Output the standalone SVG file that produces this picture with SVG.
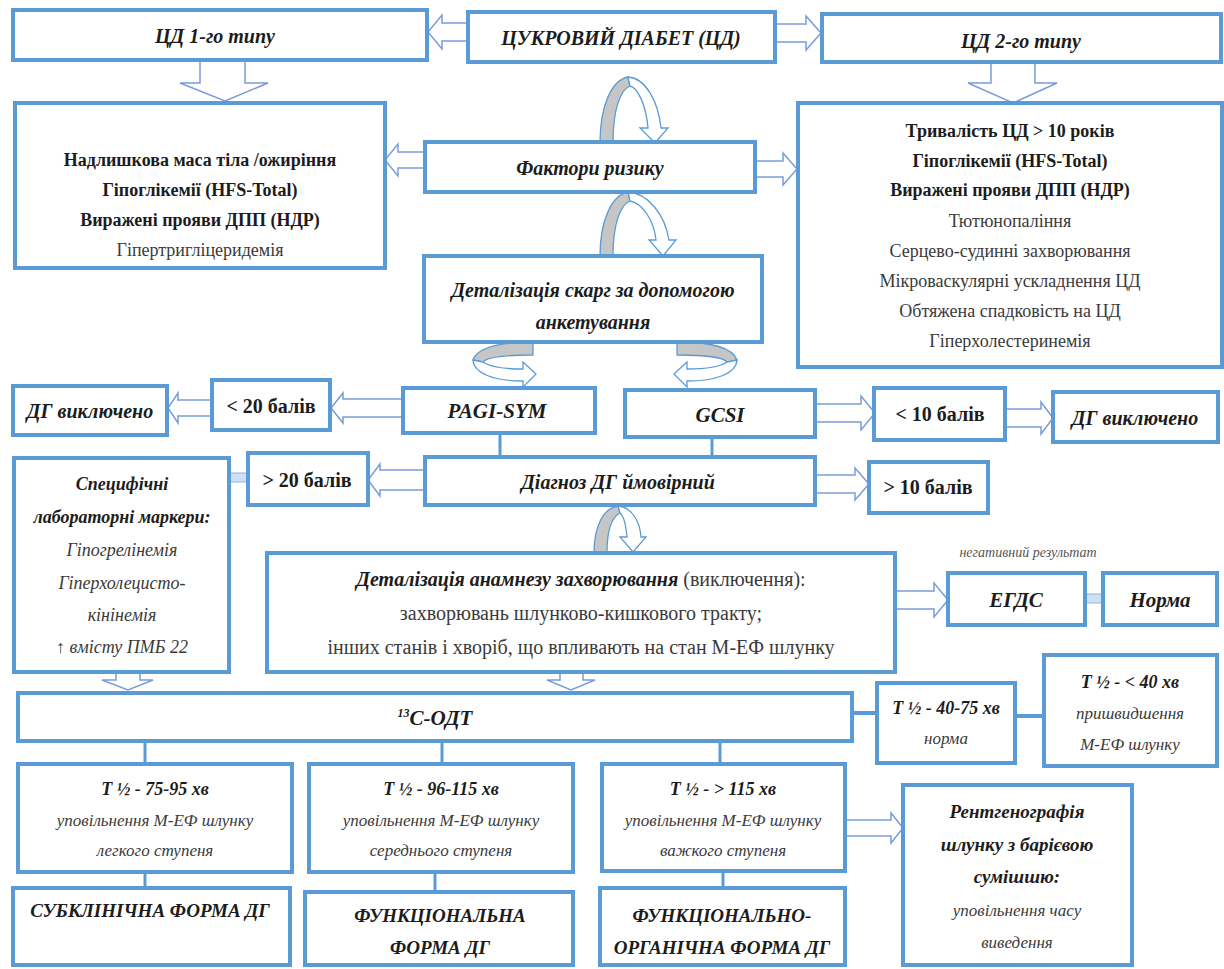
<svg xmlns="http://www.w3.org/2000/svg" width="1224" height="969" viewBox="0 0 1224 969">
<defs>
<path id="dummy" d="M0,0"/>
</defs>
<g id="connectors">
<g fill="#fff" stroke="#7A9CDA" stroke-width="1.5">
<path d="M468,23 L442,23 L442,15 L428,32 L442,49 L442,41 L468,41 Z"/>
<path d="M775,24 L806,24 L806,16 L821,33 L806,50 L806,42 L775,42 Z"/>
<path d="M200,62 L200,83 L180,83 L225,101 L268,83 L245,83 L245,62"/>
<path d="M991,62 L991,83 L968,83 L1013,103 L1057,83 L1035,83 L1035,62"/>
<path d="M425,152 L398,152 L398,144 L385,160 L398,176 L398,168 L425,168 Z"/>
<path d="M755,161 L783,161 L783,153 L797,169 L783,185 L783,177 L755,177 Z"/>
<path d="M403,399 L343,399 L343,393 L331,408 L343,423 L343,417 L403,417 Z"/>
<path d="M212,400 L178,400 L178,393 L168,408 L178,423 L178,416 L212,416 Z"/>
<path d="M425,470 L380,470 L380,464 L368,480 L380,496 L380,490 L425,490 Z"/>
<path d="M815,404 L861,404 L861,396 L875,413 L861,430 L861,422 L815,422 Z"/>
<path d="M1005,409 L1041,409 L1041,402 L1053,418 L1041,434 L1041,427 L1005,427 Z"/>
<path d="M815,475 L855,475 L855,468 L869,484 L855,500 L855,493 L815,493 Z"/>
<path d="M895,591 L934,591 L934,583 L948,600 L934,617 L934,609 L895,609 Z"/>
<path d="M116,672 L116,680 L102,680 L128,690 L153,680 L140,680 L140,672"/>
<path d="M560,673 L560,680 L547,680 L571,690 L595,680 L583,680 L583,673"/>
<path d="M845,820 L891,820 L891,813 L903,828 L891,843 L891,836 L845,836 Z"/>
</g>
<g fill="#c6c6c6" stroke="#5B9BD5" stroke-width="1.3">
<path d="M600,143 C600,105 612,80 628,77 L630,86 C620,90 613,110 613,143 Z"/>
<path d="M600,256 C600,220 612,195 628,192 L630,201 C620,205 613,225 613,256 Z"/>
<path d="M533,342 C505,342 478,346 473,360 L483,362 C488,356 510,355 533,355 Z"/>
<path d="M677,342 C705,342 732,346 737,360 L727,362 C722,356 700,355 677,355 Z"/>
<path d="M594,553 C594,525 604,508 618,506 L620,513 C612,517 607,530 607,553 Z"/>
</g>
<g fill="#fff" stroke="#5B9BD5" stroke-width="1.3">
<path d="M628,77 C645,78 658,100 661,128 L668,128 L655,143 L640,128 L648,128 C646,105 638,88 630,86 Z"/>
<path d="M628,192 C648,193 665,215 669,240 L676,240 L663,256 L649,240 L656,240 C654,220 642,203 630,201 Z"/>
<path d="M473,360 C474,374 495,381 523,381 L523,387 L536,374 L523,362 L523,369 C505,369 490,367 483,362 Z"/>
<path d="M737,360 C736,374 715,381 687,381 L687,387 L674,374 L687,362 L687,369 C705,369 720,367 727,362 Z"/>
<path d="M618,506 C632,507 640,522 641,537 L646,537 L633,552 L620,537 L627,537 C626,526 624,516 620,513 Z"/>
</g>
<g fill="#cfe0f3" stroke="#8DB3E2" stroke-width="1">
<rect x="229" y="473" width="19" height="9"/>
<rect x="1085" y="594" width="18" height="9"/>
</g>
<g stroke="#5B9BD5" stroke-width="3" fill="none">
<line x1="500" y1="433" x2="500" y2="457"/>
<line x1="712" y1="437" x2="712" y2="457"/>
<line x1="852" y1="713" x2="877" y2="713" stroke-width="4"/>
<line x1="1015" y1="716" x2="1044" y2="716" stroke-width="4"/>
<line x1="145" y1="741" x2="145" y2="764"/>
<line x1="442" y1="741" x2="442" y2="764"/>
<line x1="720" y1="741" x2="720" y2="764"/>
<line x1="145" y1="872" x2="145" y2="888"/>
<line x1="435" y1="872" x2="435" y2="890"/>
<line x1="723" y1="871" x2="723" y2="888"/>
</g>
</g>
<g id="n-cd1"><rect fill="#fff" stroke="#5B9BD5" stroke-width="4" x="13" y="10" width="414" height="50"/><text style="font-family:'Liberation Serif',serif" text-anchor="middle" fill="#1c1c1c" font-size="20" font-weight="bold" font-style="italic" x="215" y="43">ЦД 1-го типу</text></g>
<g id="n-cd"><rect fill="#fff" stroke="#5B9BD5" stroke-width="4" x="468" y="12" width="307" height="50"/><text style="font-family:'Liberation Serif',serif" text-anchor="middle" fill="#1c1c1c" font-size="20" font-weight="bold" font-style="italic" x="621" y="45">ЦУКРОВИЙ ДІАБЕТ (ЦД)</text></g>
<g id="n-cd2"><rect fill="#fff" stroke="#5B9BD5" stroke-width="4" x="822" y="14" width="399" height="48"/><text style="font-family:'Liberation Serif',serif" text-anchor="middle" fill="#1c1c1c" font-size="20" font-weight="bold" font-style="italic" x="1021" y="48">ЦД 2-го типу</text></g>
<g id="n-left"><rect fill="#fff" stroke="#5B9BD5" stroke-width="4" x="15" y="103" width="370" height="165"/>
<text style="font-family:'Liberation Serif',serif" text-anchor="middle" fill="#1c1c1c" font-size="18" font-weight="bold" x="200" y="166">Надлишкова маса тіла /ожиріння</text>
<text style="font-family:'Liberation Serif',serif" text-anchor="middle" fill="#1c1c1c" font-size="18" font-weight="bold" x="200" y="196">Гіпоглікемії (HFS-Total)</text>
<text style="font-family:'Liberation Serif',serif" text-anchor="middle" fill="#1c1c1c" font-size="18" font-weight="bold" x="200" y="226">Виражені прояви ДПП (НДР)</text>
<text style="font-family:'Liberation Serif',serif" text-anchor="middle" fill="#3a3a3a" font-size="18" x="200" y="256">Гіпертригліцеридемія</text></g>
<g id="n-risk"><rect fill="#fff" stroke="#5B9BD5" stroke-width="4" x="425" y="142" width="330" height="50"/><text style="font-family:'Liberation Serif',serif" text-anchor="middle" fill="#1c1c1c" font-size="20" font-weight="bold" font-style="italic" x="590" y="175">Фактори ризику</text></g>
<g id="n-right"><rect fill="#fff" stroke="#5B9BD5" stroke-width="4" x="798" y="103" width="424" height="264"/>
<text style="font-family:'Liberation Serif',serif" text-anchor="middle" fill="#1c1c1c" font-size="18" font-weight="bold" x="1010" y="137">Тривалість ЦД &gt; 10 років</text>
<text style="font-family:'Liberation Serif',serif" text-anchor="middle" fill="#1c1c1c" font-size="18" font-weight="bold" x="1010" y="167">Гіпоглікемії (HFS-Total)</text>
<text style="font-family:'Liberation Serif',serif" text-anchor="middle" fill="#1c1c1c" font-size="18" font-weight="bold" x="1010" y="196">Виражені прояви ДПП (НДР)</text>
<text style="font-family:'Liberation Serif',serif" text-anchor="middle" fill="#3a3a3a" font-size="18" x="1010" y="227">Тютюнопаління</text>
<text style="font-family:'Liberation Serif',serif" text-anchor="middle" fill="#3a3a3a" font-size="18" x="1010" y="257">Серцево-судинні захворювання</text>
<text style="font-family:'Liberation Serif',serif" text-anchor="middle" fill="#3a3a3a" font-size="18" x="1010" y="287">Мікроваскулярні ускладнення ЦД</text>
<text style="font-family:'Liberation Serif',serif" text-anchor="middle" fill="#3a3a3a" font-size="18" x="1010" y="317">Обтяжена спадковість на ЦД</text>
<text style="font-family:'Liberation Serif',serif" text-anchor="middle" fill="#3a3a3a" font-size="18" x="1010" y="347">Гіперхолестеринемія</text></g>
<g id="n-quest"><rect fill="#fff" stroke="#5B9BD5" stroke-width="4" x="424" y="256" width="338" height="86"/>
<text style="font-family:'Liberation Serif',serif" text-anchor="middle" fill="#1c1c1c" font-size="20" font-weight="bold" font-style="italic" x="593" y="297">Деталізація скарг за допомогою</text>
<text style="font-family:'Liberation Serif',serif" text-anchor="middle" fill="#1c1c1c" font-size="20" font-weight="bold" font-style="italic" x="593" y="329">анкетування</text></g>
<g id="n-pagi"><rect fill="#fff" stroke="#5B9BD5" stroke-width="4" x="403" y="388" width="192" height="45"/><text style="font-family:'Liberation Serif',serif" text-anchor="middle" fill="#1c1c1c" font-size="21" font-weight="bold" font-style="italic" x="497" y="418">PAGI-SYM</text></g>
<g id="n-gcsi"><rect fill="#fff" stroke="#5B9BD5" stroke-width="4" x="625" y="390" width="190" height="47"/><text style="font-family:'Liberation Serif',serif" text-anchor="middle" fill="#1c1c1c" font-size="21" font-weight="bold" font-style="italic" x="720" y="422">GCSI</text></g>
<g id="n-lt20"><rect fill="#fff" stroke="#5B9BD5" stroke-width="4" x="212" y="380" width="118" height="50"/><text style="font-family:'Liberation Serif',serif" text-anchor="middle" fill="#1c1c1c" font-size="20" font-weight="bold" x="271" y="413">&lt; 20 балів</text></g>
<g id="n-excl1"><rect fill="#fff" stroke="#5B9BD5" stroke-width="4" x="13" y="386" width="154" height="49"/><text style="font-family:'Liberation Serif',serif" text-anchor="middle" fill="#1c1c1c" font-size="20" font-weight="bold" font-style="italic" x="90" y="418">ДГ виключено</text></g>
<g id="n-diag"><rect fill="#fff" stroke="#5B9BD5" stroke-width="4" x="425" y="457" width="390" height="48"/><text style="font-family:'Liberation Serif',serif" text-anchor="middle" fill="#1c1c1c" font-size="20" font-weight="bold" font-style="italic" x="618" y="489">Діагноз ДГ ймовірний</text></g>
<g id="n-gt20"><rect fill="#fff" stroke="#5B9BD5" stroke-width="4" x="248" y="453" width="120" height="52"/><text style="font-family:'Liberation Serif',serif" text-anchor="middle" fill="#1c1c1c" font-size="20" font-weight="bold" x="307" y="487">&gt; 20 балів</text></g>
<g id="n-lab"><rect fill="#fff" stroke="#5B9BD5" stroke-width="4" x="14" y="458" width="215" height="214"/>
<text style="font-family:'Liberation Serif',serif" text-anchor="middle" fill="#1c1c1c" font-size="18" font-weight="bold" font-style="italic" x="122" y="490">Специфічні</text>
<text style="font-family:'Liberation Serif',serif" text-anchor="middle" fill="#1c1c1c" font-size="18" font-weight="bold" font-style="italic" x="122" y="523">лабораторні маркери:</text>
<text style="font-family:'Liberation Serif',serif" text-anchor="middle" fill="#3a3a3a" font-size="18" font-style="italic" x="122" y="556">Гіпогрелінемія</text>
<text style="font-family:'Liberation Serif',serif" text-anchor="middle" fill="#3a3a3a" font-size="18" font-style="italic" x="122" y="589">Гіперхолецисто-</text>
<text style="font-family:'Liberation Serif',serif" text-anchor="middle" fill="#3a3a3a" font-size="18" font-style="italic" x="122" y="621">кінінемія</text>
<text style="font-family:'Liberation Serif',serif" text-anchor="middle" fill="#3a3a3a" font-size="18" font-style="italic" x="122" y="653">↑ вмісту ПМБ 22</text></g>
<g id="n-lt10"><rect fill="#fff" stroke="#5B9BD5" stroke-width="4" x="874" y="388" width="131" height="52"/><text style="font-family:'Liberation Serif',serif" text-anchor="middle" fill="#1c1c1c" font-size="20" font-weight="bold" x="940" y="421">&lt; 10 балів</text></g>
<g id="n-excl2"><rect fill="#fff" stroke="#5B9BD5" stroke-width="4" x="1053" y="392" width="165" height="50"/><text style="font-family:'Liberation Serif',serif" text-anchor="middle" fill="#1c1c1c" font-size="20" font-weight="bold" font-style="italic" x="1135" y="425">ДГ виключено</text></g>
<g id="n-gt10"><rect fill="#fff" stroke="#5B9BD5" stroke-width="4" x="869" y="462" width="119" height="51"/><text style="font-family:'Liberation Serif',serif" text-anchor="middle" fill="#1c1c1c" font-size="20" font-weight="bold" x="928" y="494">&gt; 10 балів</text></g>
<g id="n-anam"><rect fill="#fff" stroke="#5B9BD5" stroke-width="4" x="267" y="553" width="628" height="119"/>
<text style="font-family:'Liberation Serif',serif" text-anchor="middle" fill="#1c1c1c" font-size="20" x="581" y="586"><tspan font-weight="bold" font-style="italic">Деталізація анамнезу захворювання</tspan><tspan fill="#3a3a3a"> (виключення):</tspan></text>
<text style="font-family:'Liberation Serif',serif" text-anchor="middle" fill="#3a3a3a" font-size="20" x="581" y="620">захворювань шлунково-кишкового тракту;</text>
<text style="font-family:'Liberation Serif',serif" text-anchor="middle" fill="#3a3a3a" font-size="20" x="581" y="654">інших станів і хворіб, що впливають на стан М-ЕФ шлунку</text></g>
<text style="font-family:'Liberation Serif',serif" text-anchor="middle" fill="#555" font-size="14" font-style="italic" x="1028" y="557">негативний результат</text>
<g id="n-egds"><rect fill="#fff" stroke="#5B9BD5" stroke-width="4" x="948" y="573" width="137" height="52"/><text style="font-family:'Liberation Serif',serif" text-anchor="middle" fill="#1c1c1c" font-size="21" font-weight="bold" font-style="italic" x="1016" y="607">ЕГДС</text></g>
<g id="n-norm"><rect fill="#fff" stroke="#5B9BD5" stroke-width="4" x="1103" y="573" width="114" height="52"/><text style="font-family:'Liberation Serif',serif" text-anchor="middle" fill="#1c1c1c" font-size="21" font-weight="bold" font-style="italic" x="1160" y="607">Норма</text></g>
<g id="n-odt"><rect fill="#fff" stroke="#5B9BD5" stroke-width="4" x="18" y="693" width="834" height="48"/><text style="font-family:'Liberation Serif',serif" text-anchor="middle" fill="#1c1c1c" font-size="21" font-weight="bold" font-style="italic" x="435" y="725"><tspan font-size="12" dy="-8">13</tspan><tspan dy="8">С-ОДТ</tspan></text></g>
<g id="n-t40"><rect fill="#fff" stroke="#5B9BD5" stroke-width="4" x="877" y="683" width="138" height="80"/>
<text style="font-family:'Liberation Serif',serif" text-anchor="middle" fill="#1c1c1c" font-size="18" font-weight="bold" font-style="italic" x="946" y="714">T ½ - 40-75 хв</text>
<text style="font-family:'Liberation Serif',serif" text-anchor="middle" fill="#3a3a3a" font-size="17" font-style="italic" x="946" y="744">норма</text></g>
<g id="n-tlt40"><rect fill="#fff" stroke="#5B9BD5" stroke-width="4" x="1044" y="655" width="173" height="111"/>
<text style="font-family:'Liberation Serif',serif" text-anchor="middle" fill="#1c1c1c" font-size="18" font-weight="bold" font-style="italic" x="1130" y="688">T ½ - &lt; 40 хв</text>
<text style="font-family:'Liberation Serif',serif" text-anchor="middle" fill="#3a3a3a" font-size="17" font-style="italic" x="1130" y="719">пришвидшення</text>
<text style="font-family:'Liberation Serif',serif" text-anchor="middle" fill="#3a3a3a" font-size="17" font-style="italic" x="1130" y="750">М-ЕФ шлунку</text></g>
<g id="n-m1"><rect fill="#fff" stroke="#5B9BD5" stroke-width="4" x="18" y="764" width="274" height="108"/>
<text style="font-family:'Liberation Serif',serif" text-anchor="middle" fill="#1c1c1c" font-size="18" font-weight="bold" font-style="italic" x="155" y="795">T ½ - 75-95 хв</text>
<text style="font-family:'Liberation Serif',serif" text-anchor="middle" fill="#3a3a3a" font-size="17" font-style="italic" x="155" y="826">уповільнення М-ЕФ шлунку</text>
<text style="font-family:'Liberation Serif',serif" text-anchor="middle" fill="#3a3a3a" font-size="17" font-style="italic" x="155" y="856">легкого ступеня</text></g>
<g id="n-m2"><rect fill="#fff" stroke="#5B9BD5" stroke-width="4" x="309" y="764" width="264" height="108"/>
<text style="font-family:'Liberation Serif',serif" text-anchor="middle" fill="#1c1c1c" font-size="18" font-weight="bold" font-style="italic" x="441" y="795">T ½ - 96-115 хв</text>
<text style="font-family:'Liberation Serif',serif" text-anchor="middle" fill="#3a3a3a" font-size="17" font-style="italic" x="441" y="826">уповільнення М-ЕФ шлунку</text>
<text style="font-family:'Liberation Serif',serif" text-anchor="middle" fill="#3a3a3a" font-size="17" font-style="italic" x="441" y="856">середнього ступеня</text></g>
<g id="n-m3"><rect fill="#fff" stroke="#5B9BD5" stroke-width="4" x="602" y="764" width="243" height="107"/>
<text style="font-family:'Liberation Serif',serif" text-anchor="middle" fill="#1c1c1c" font-size="18" font-weight="bold" font-style="italic" x="723" y="795">T ½ - &gt; 115 хв</text>
<text style="font-family:'Liberation Serif',serif" text-anchor="middle" fill="#3a3a3a" font-size="17" font-style="italic" x="723" y="826">уповільнення М-ЕФ шлунку</text>
<text style="font-family:'Liberation Serif',serif" text-anchor="middle" fill="#3a3a3a" font-size="17" font-style="italic" x="723" y="856">важкого ступеня</text></g>
<g id="n-xray"><rect fill="#fff" stroke="#5B9BD5" stroke-width="4" x="903" y="785" width="229" height="180"/>
<text style="font-family:'Liberation Serif',serif" text-anchor="middle" fill="#1c1c1c" font-size="19" font-weight="bold" font-style="italic" x="1017" y="818">Рентгенографія</text>
<text style="font-family:'Liberation Serif',serif" text-anchor="middle" fill="#1c1c1c" font-size="19" font-weight="bold" font-style="italic" x="1017" y="851">шлунку з барієвою</text>
<text style="font-family:'Liberation Serif',serif" text-anchor="middle" fill="#1c1c1c" font-size="19" font-weight="bold" font-style="italic" x="1017" y="883">сумішшю:</text>
<text style="font-family:'Liberation Serif',serif" text-anchor="middle" fill="#3a3a3a" font-size="17" font-style="italic" x="1017" y="916">уповільнення часу</text>
<text style="font-family:'Liberation Serif',serif" text-anchor="middle" fill="#3a3a3a" font-size="17" font-style="italic" x="1017" y="948">виведення</text></g>
<g id="n-f1"><rect fill="#fff" stroke="#5B9BD5" stroke-width="4" x="13" y="888" width="277" height="77"/><text style="font-family:'Liberation Serif',serif" text-anchor="middle" fill="#1c1c1c" font-size="19" font-weight="bold" font-style="italic" x="150" y="917">СУБКЛІНІЧНА ФОРМА ДГ</text></g>
<g id="n-f2"><rect fill="#fff" stroke="#5B9BD5" stroke-width="4" x="305" y="892" width="268" height="73"/>
<text style="font-family:'Liberation Serif',serif" text-anchor="middle" fill="#1c1c1c" font-size="19" font-weight="bold" font-style="italic" x="440" y="922">ФУНКЦІОНАЛЬНА</text>
<text style="font-family:'Liberation Serif',serif" text-anchor="middle" fill="#1c1c1c" font-size="19" font-weight="bold" font-style="italic" x="440" y="954">ФОРМА ДГ</text></g>
<g id="n-f3"><rect fill="#fff" stroke="#5B9BD5" stroke-width="4" x="600" y="888" width="245" height="77"/>
<text style="font-family:'Liberation Serif',serif" text-anchor="middle" fill="#1c1c1c" font-size="19" font-weight="bold" font-style="italic" x="722" y="922">ФУНКЦІОНАЛЬНО-</text>
<text style="font-family:'Liberation Serif',serif" text-anchor="middle" fill="#1c1c1c" font-size="19" font-weight="bold" font-style="italic" x="722" y="954">ОРГАНІЧНА ФОРМА ДГ</text></g>
</svg>
